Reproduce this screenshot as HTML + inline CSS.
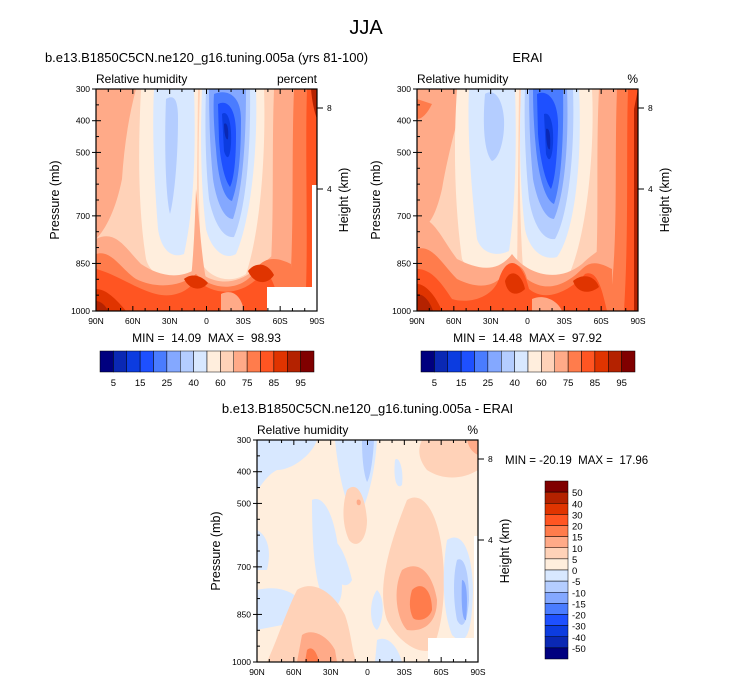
<!DOCTYPE html>
<html><head><meta charset="utf-8">
<style>
body{margin:0;background:#fff;}
svg{display:block;font-family:"Liberation Sans",sans-serif;}
.pre{white-space:pre;}
</style></head>
<body>
<svg id="chart" width="733" height="686" viewBox="0 0 733 686" xmlns="http://www.w3.org/2000/svg">
<text x="366" y="34" font-size="20" text-anchor="middle">JJA</text>

<!-- Panel 1 field -->
<g transform="translate(96,89)">
 <rect width="221" height="222" fill="#ffd2b8"/>
 <path d="M0,0 L40,0 C32,30 28,60 26,90 C20,120 10,140 0,150 Z" fill="#ffaa88"/>
 <path d="M178,0 L221,0 L221,222 L170,222 C180,160 175,80 178,0Z" fill="#ffaa88"/>
 <path d="M198,0 L221,0 L221,222 L192,222 C199,150 195,80 198,0Z" fill="#ff7c4c"/>
 <path d="M211,0 L221,0 L221,200 L210,200 C212,140 209,60 211,0Z" fill="#ff5522"/>
 <path d="M215,0 L221,0 L221,30 C218,22 216,12 215,0Z" fill="#b42200"/>
 <path d="M45,0 L102,0 L100,185 C80,195 55,190 50,170 C42,120 42,60 45,0Z" fill="#ffeedd"/>
 <path d="M104,0 L168,0 C170,60 165,140 150,185 C135,195 115,190 106,175 C102,120 102,60 104,0Z" fill="#ffeedd"/>
 <path d="M58,0 L98,0 C100,60 98,120 88,165 C75,170 65,160 62,140 C58,90 56,40 58,0Z" fill="#d8e8ff"/>
 <path d="M70,10 C78,5 82,10 82,30 C82,70 78,110 74,125 C70,110 68,60 70,10Z" fill="#b4cdff"/>
 <path d="M106,0 L160,0 C162,60 155,130 140,165 C128,172 115,160 110,140 C105,100 104,50 106,0Z" fill="#d8e8ff"/>
 <path d="M110,0 L154,0 C155,60 150,120 138,148 C126,150 117,130 113,110 C109,70 109,30 110,0Z" fill="#b4cdff"/>
 <path d="M113,0 L150,0 C150,50 147,100 137,130 C127,130 120,110 117,90 C114,60 113,30 113,0Z" fill="#84a8ff"/>
 <path d="M118,5 C130,0 145,5 145,30 C145,70 142,95 136,112 C128,110 122,90 120,60 C118,40 117,20 118,5Z" fill="#4a7cff"/>
 <path d="M122,15 C132,10 140,20 140,45 C140,70 138,90 134,98 C128,90 124,70 123,50 Z" fill="#1e50ff"/>
 <path d="M126,25 C132,20 136,35 135,55 C134,70 131,72 128,62 Z" fill="#0c3ce0"/>
 <path d="M128,35 C131,32 133,40 132,50 C130,52 128,45 128,35Z" fill="#0a28b4"/>
 <path d="M0,150 C20,140 30,160 45,175 C60,185 80,192 100,180 C115,195 140,200 165,175 C175,170 180,160 190,160 L190,222 L0,222Z" fill="#ffaa88"/>
 <path d="M100,100 C104,140 106,170 110,190 L95,190 C98,160 99,130 100,100Z" fill="#ffaa88"/>
 <path d="M0,165 C15,160 25,180 40,190 C60,200 85,198 100,185 C120,205 150,200 160,180 C170,165 185,170 195,175 L195,222 L0,222Z" fill="#ff7c4c"/>
 <path d="M0,180 C20,185 40,200 60,205 C80,210 95,200 100,190 C120,210 150,205 165,185 C175,180 180,200 185,222 L0,222Z" fill="#ff5522"/>
 <path d="M88,190 C95,184 105,186 112,194 C106,202 94,202 88,190Z" fill="#e03400"/>
 <path d="M152,182 C160,172 172,174 178,186 C172,196 158,196 152,182Z" fill="#e03400"/>
 <path d="M0,200 C10,200 20,210 30,222 L0,222Z" fill="#e03400"/>
 <path d="M0,212 C5,212 10,217 12,222 L0,222Z" fill="#b42200"/>
 <path d="M125,205 C135,200 145,205 148,222 L125,222Z" fill="#ffaa88"/>
 <rect x="171" y="198" width="50" height="24" fill="#fff"/>
 <rect x="216" y="96" width="5" height="102" fill="#fff"/>
</g>

<!-- Panel 2 field -->
<g transform="translate(417,89)">
 <rect width="221" height="222" fill="#ffd2b8"/>
 <path d="M0,0 L50,0 C40,30 30,70 25,100 C18,130 10,140 0,140 Z" fill="#ffaa88"/>
 <path d="M0,10 L15,15 C10,25 5,30 0,30Z" fill="#ff7c4c"/>
 <path d="M182,0 L221,0 L221,222 L175,222 C184,160 178,80 182,0Z" fill="#ffaa88"/>
 <path d="M200,0 L221,0 L221,222 L192,222 C202,150 197,80 200,0Z" fill="#ff7c4c"/>
 <path d="M211,0 L221,0 L221,222 L207,222 C212,140 209,60 211,0Z" fill="#ff5522"/>
 <path d="M217,20 L221,0 L221,222 L217,222Z" fill="#b42200"/>
 <path d="M40,0 L102,0 L100,190 C80,195 55,190 45,170 C38,120 36,60 40,0Z" fill="#ffeedd"/>
 <path d="M104,0 L175,0 C178,60 170,150 150,190 C135,200 115,195 106,180 C102,120 102,60 104,0Z" fill="#ffeedd"/>
 <path d="M52,0 L98,0 C100,60 98,120 92,162 C80,168 65,165 60,150 C54,100 50,40 52,0Z" fill="#d8e8ff"/>
 <path d="M68,5 C75,0 85,5 87,30 C88,50 82,70 75,72 C68,65 65,40 68,5Z" fill="#b4cdff"/>
 <path d="M104,0 L162,0 C165,60 160,140 140,168 C125,172 112,160 108,140 C103,100 102,50 104,0Z" fill="#d8e8ff"/>
 <path d="M108,0 L156,0 C158,60 152,125 138,150 C126,152 116,135 112,110 C108,70 107,30 108,0Z" fill="#b4cdff"/>
 <path d="M112,0 L150,0 C152,50 148,105 137,130 C128,130 120,112 116,90 C113,60 112,30 112,0Z" fill="#84a8ff"/>
 <path d="M116,0 L146,0 C147,50 144,95 137,115 C129,112 122,90 119,60 C117,40 116,20 116,0Z" fill="#4a7cff"/>
 <path d="M120,5 C130,0 142,10 141,40 C140,70 138,90 134,100 C128,92 123,70 121,45 Z" fill="#1e50ff"/>
 <path d="M127,25 C133,22 137,35 136,55 C135,70 132,75 129,65 Z" fill="#0c3ce0"/>
 <path d="M129,40 C132,38 134,45 133,60 C131,62 129,55 129,40Z" fill="#0a28b4"/>
 <path d="M0,130 C15,125 25,150 40,170 C60,180 80,185 95,165 C110,185 140,195 165,175 C175,165 185,160 190,155 L190,222 L0,222Z" fill="#ffaa88"/>
 <path d="M0,160 C15,155 25,175 40,190 C60,200 80,200 90,180 C100,170 108,180 110,190 C130,205 150,195 165,180 C175,170 185,175 195,180 L195,222 L0,222Z" fill="#ff7c4c"/>
 <path d="M0,180 C15,180 25,195 35,210 C50,215 75,210 82,190 C90,165 105,170 112,200 C130,215 155,200 168,185 C180,180 185,200 190,222 L0,222Z" fill="#ff5522"/>
 <path d="M88,192 C92,180 104,182 108,200 C100,208 90,206 88,192Z" fill="#e03400"/>
 <path d="M156,192 C165,184 178,186 182,198 C172,206 160,204 156,192Z" fill="#e03400"/>
 <path d="M0,195 C10,195 20,210 25,222 L0,222Z" fill="#e03400"/>
 <path d="M0,205 C8,205 14,215 16,222 L0,222Z" fill="#b42200"/>
 <path d="M115,210 C125,205 140,210 145,222 L115,222Z" fill="#ffaa88"/>
</g>

<!-- Panel 3 field -->
<g transform="translate(257,440)">
 <rect width="221" height="222" fill="#ffeedd"/>
 <path d="M0,0 L60,0 C55,15 35,30 20,30 C10,35 5,45 0,50Z" fill="#d8e8ff"/>
 <path d="M0,90 C10,95 15,110 10,130 L0,130Z" fill="#d8e8ff"/>
 <path d="M0,150 C20,145 40,150 50,170 C45,185 20,185 0,190Z" fill="#d8e8ff"/>
 <path d="M30,190 C35,185 38,195 32,200Z" fill="#b4cdff"/>
 <path d="M55,60 C65,55 75,70 80,100 C85,140 90,160 75,170 C60,160 55,120 55,60Z" fill="#d8e8ff"/>
 <path d="M78,0 L120,0 C118,30 112,60 100,80 C90,70 82,40 78,0Z" fill="#d8e8ff"/>
 <path d="M105,0 L117,0 C116,20 113,38 110,42 C107,35 105,20 105,0Z" fill="#b4cdff"/>
 <path d="M70,100 C78,95 88,110 95,140 C90,150 80,145 75,130Z" fill="#d8e8ff"/>
 <path d="M138,20 C142,15 147,30 145,45 C140,50 136,40 138,20Z" fill="#d8e8ff"/>
 <path d="M120,150 C130,160 125,185 120,190 C112,185 112,160 120,150Z" fill="#d8e8ff"/>
 <path d="M120,200 C130,195 140,205 145,222 L118,222Z" fill="#d8e8ff"/>
 <path d="M165,0 L221,0 L221,30 C205,40 185,40 170,30 C162,20 160,10 165,0Z" fill="#ffd2b8"/>
 <path d="M210,0 L221,0 L221,15 C215,12 212,8 210,0Z" fill="#ffaa88"/>
 <path d="M90,50 C100,40 108,55 110,80 C110,100 100,110 92,100 C85,85 85,65 90,50Z" fill="#ffd2b8"/>
 <path d="M100,60 C103,58 105,62 103,65 C100,66 99,63 100,60Z" fill="#ffaa88"/>
 <path d="M150,60 C165,50 180,70 185,110 C190,150 185,190 175,210 C160,215 140,200 130,180 C120,150 130,110 150,60Z" fill="#ffd2b8"/>
 <path d="M145,130 C160,120 175,130 180,160 C180,185 165,192 150,190 C140,180 135,150 145,130Z" fill="#ffaa88"/>
 <path d="M155,150 C165,140 175,150 175,170 C172,180 160,182 156,178 C152,170 152,160 155,150Z" fill="#ff7c4c"/>
 <path d="M190,100 C205,90 215,110 216,150 C215,190 210,210 195,195 C185,170 185,130 190,100Z" fill="#d8e8ff"/>
 <path d="M200,120 C208,115 212,135 212,160 C210,185 205,190 200,180 C196,160 196,135 200,120Z" fill="#b4cdff"/>
 <path d="M205,140 C210,140 211,160 209,180 C205,182 204,160 205,140Z" fill="#84a8ff"/>
 <path d="M40,150 C55,140 75,150 88,175 C95,195 95,215 100,222 L10,222 C20,200 30,170 40,150Z" fill="#ffd2b8"/>
 <path d="M45,195 C55,188 70,195 78,210 L80,222 L40,222Z" fill="#ffaa88"/>
 <path d="M50,210 C55,205 60,212 62,222 L48,222Z" fill="#ff7c4c"/>
 <rect x="171" y="198" width="50" height="24" fill="#fff"/>
 <rect x="217" y="96" width="4" height="102" fill="#fff"/>
</g>

<g id="axes"></g>
<g id="bars"></g>
</svg>
<script>
const NS='http://www.w3.org/2000/svg';
const pressTicks=[300,400,500,700,850,1000];
const latLabels=['90N','60N','30N','0','30S','60S','90S'];
const lats=[90,60,30,0,-30,-60,-90];
const heightTicks=[8,4];
const heightPos=[19,100];
const rhLevels=[5,10,15,20,25,30,40,50,60,65,70,75,80,85,90,95];
const rhLabels=['5','15','25','40','60','75','85','95'];
const rhColors=['#00007f','#0a28b4','#0c3ce0','#1e50ff','#4a7cff','#84a8ff','#b4cdff','#d8e8ff','#ffeedd','#ffd2b8','#ffaa88','#ff7c4c','#ff5522','#e03400','#b42200','#800000'];
const diffLabels=['50','40','30','20','15','10','5','0','-5','-10','-15','-20','-30','-40','-50'];
const diffColors=['#800000','#b42200','#e03400','#ff5522','#ff7c4c','#ffaa88','#ffd2b8','#ffeedd','#d8e8ff','#b4cdff','#84a8ff','#4a7cff','#1e50ff','#0c3ce0','#0a28b4','#00007f'];
function mk(tag,attrs,parent,text){const e=document.createElementNS(NS,tag);for(const k in attrs)e.setAttribute(k,attrs[k]);if(text!==undefined)e.textContent=text;parent.appendChild(e);return e;}
const axes=document.getElementById('axes');
const panels=[
 {x:96,y:89,title:'b.e13.B1850C5CN.ne120_g16.tuning.005a (yrs 81-100)',units:'percent',ty:62,minmax:'MIN =  14.09  MAX =  98.93'},
 {x:417,y:89,title:'ERAI',units:'%',ty:62,minmax:'MIN =  14.48  MAX =  97.92'},
 {x:257,y:440,title:'b.e13.B1850C5CN.ne120_g16.tuning.005a - ERAI',units:'%',ty:413,minmax:null}
];
const W=221,H=222;
panels.forEach((p,i)=>{
 const g=mk('g',{},axes);
 
 
 const xs=lat=>p.x+(90-lat)/180*W;
 const ys=pr=>p.y+(pr-300)/700*H;
 const fr=mk('rect',{x:p.x,y:p.y,width:W,height:H,fill:'none',stroke:'#000','stroke-width':1.2},g);
 
 
 const t=mk('text',{x:p.x+W/2,y:p.ty,'font-size':13,'text-anchor':'middle'},g,p.title);
 
 
 const l=mk('text',{x:p.x,y:p.y-6,'font-size':12},g,'Relative humidity');
 
 
 const u=mk('text',{x:p.x+W,y:p.y-6,'font-size':12,'text-anchor':'end'},g,p.units);
 
 
 for(let la=90;la>=-90;la-=10){const X=xs(la);const major=la%30===0;const len=major?5:3;
  mk('line',{x1:X,y1:p.y+H,x2:X,y2:p.y+H-len,stroke:'#000'},g);
  mk('line',{x1:X,y1:p.y,x2:X,y2:p.y+len,stroke:'#000'},g);}
 lats.forEach((la,k)=>{const tl=mk('text',{x:xs(la),y:p.y+H+13,'font-size':8.5,'text-anchor':'middle'},g,latLabels[k]);
  
  });
 for(let pr=300;pr<=1000;pr+=50){const Y=ys(pr);const major=pressTicks.includes(pr);
  mk('line',{x1:p.x,y1:Y,x2:p.x+(major?5:3),y2:Y,stroke:'#000'},g);}
 pressTicks.forEach(pr=>{const Y=ys(pr);mk('line',{x1:p.x-4,y1:Y,x2:p.x,y2:Y,stroke:'#000'},g);
  const tl=mk('text',{x:p.x-6,y:Y+3,'font-size':8.5,'text-anchor':'end'},g,String(pr));
  
  });
 heightTicks.forEach((h,k)=>{const Y=p.y+heightPos[k];
  mk('line',{x1:p.x+W,y1:Y,x2:p.x+W+6,y2:Y,stroke:'#000'},g);
  const tl=mk('text',{x:p.x+W+10,y:Y+3,'font-size':8.5},g,String(h));
  
  });
 const yt=mk('text',{transform:`translate(${p.x-37},${p.y+H/2}) rotate(-90)`,'font-size':12.5,'text-anchor':'middle'},g,'Pressure (mb)');
 
 
 const ht=mk('text',{transform:`translate(${p.x+W+31},${p.y+H/2}) rotate(-90)`,'font-size':12.5,'text-anchor':'middle'},g,'Height (km)');
 
 
 if(p.minmax){const m=mk('text',{x:p.x+W/2,y:p.y+H+31,'font-size':12,'text-anchor':'middle','class':'pre'},g,p.minmax);
  
  }
});
const m3=mk('text',{x:505,y:464,'font-size':11.5,'class':'pre'},axes,'MIN = -20.19  MAX =  17.96');


const bars=document.getElementById('bars');
[100,421].forEach((bx,j)=>{
 const g=mk('g',{},bars);
 
 
 const bw=214/rhColors.length;
 rhColors.forEach((c,k)=>{const r=mk('rect',{x:bx+k*bw,y:351,width:bw,height:21,fill:c,stroke:'#000','stroke-width':0.5},g);
  
  });
 rhLabels.forEach((lb,k)=>{const t=mk('text',{x:bx+(1+2*k)*bw,y:386,'font-size':9.5,'text-anchor':'middle'},g,lb);
  
  });
});
const g3=mk('g',{},bars);


const bh=178/diffColors.length;
diffColors.forEach((c,k)=>{const r=mk('rect',{x:545,y:481+k*bh,width:23,height:bh,fill:c,stroke:'#000','stroke-width':0.5},g3);
 
 });
diffLabels.forEach((lb,k)=>{const t=mk('text',{x:572,y:481+(k+1)*bh+4,'font-size':9.5},g3,lb);
 
 });
</script>
</body></html>
